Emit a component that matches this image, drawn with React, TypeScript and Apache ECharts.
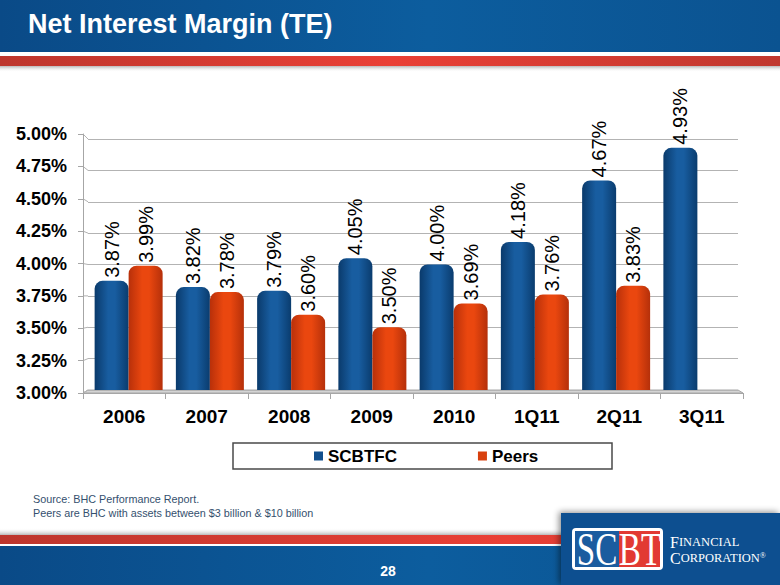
import React, { useEffect, useRef } from "react";
import * as echarts from "echarts";

const categories = ["2006", "2007", "2008", "2009", "2010", "1Q11", "2Q11", "3Q11"];
const scbtfcValues = [3.87, 3.82, 3.79, 4.05, 4.0, 4.18, 4.67, 4.93];
const peersValues: (number | null)[] = [3.99, 3.78, 3.6, 3.5, 3.69, 3.76, 3.83, null];
const yMin = 3;
const yMax = 5;
const yInterval = 0.25;
const seriesNames = ["SCBTFC", "Peers"];
const titleText = "Net Interest Margin (TE)";
const sourceLines = [
  "Source: BHC Performance Report.",
  "Peers are BHC with assets between $3 billion & $10 billion",
];
const pageNumber = "28";

const W = 780;
const H = 585;
// back plane (bars, gridlines) and front plane (axes) of the 3D chart
const G0 = { left: 88, right: 42, top: 139, bottom: 195 };
const G1 = { left: 83, right: 37, top: 134, bottom: 192 };
const FONT = "'Liberation Sans', Arial, Helvetica, sans-serif";
const SERIF = "'Liberation Serif', 'DejaVu Serif', serif";

const blueGrad = {
  type: "linear", x: 0, y: 0, x2: 1, y2: 0,
  colorStops: [
    { offset: 0, color: "#0a3a6b" },
    { offset: 0.4, color: "#185da0" },
    { offset: 0.6, color: "#185da0" },
    { offset: 1, color: "#0a3c6e" },
  ],
};
const redGrad = {
  type: "linear", x: 0, y: 0, x2: 1, y2: 0,
  colorStops: [
    { offset: 0, color: "#b8300a" },
    { offset: 0.4, color: "#ea470f" },
    { offset: 0.6, color: "#ea470f" },
    { offset: 1, color: "#b5300a" },
  ],
};

function buildDecor(): any[] {
  const els: any[] = [];
  const nTicks = Math.round((yMax - yMin) / yInterval);
  const frontTop = G1.top, frontBot = H - G1.bottom;
  const backTop = G0.top, backBot = H - G0.bottom;
  els.push({
    type: "polygon", z: -1,
    shape: { points: [[G1.left, frontBot], [W - G1.right, frontBot], [W - G0.right, backBot], [G0.left, backBot]] },
    style: { fill: "#d4d4d4", stroke: "#a8a8a8", lineWidth: 1 },
  });
  for (let i = 0; i <= nTicks; i++) {
    const fy = frontBot - (i * (frontBot - frontTop)) / nTicks;
    const by = backBot - (i * (backBot - backTop)) / nTicks;
    els.push({
      type: "line", z: -1,
      shape: { x1: G1.left, y1: fy, x2: G0.left, y2: by },
      style: { stroke: "#b3b3b3", lineWidth: 1 },
    });
  }
  return els;
}

function buildPage(): any[] {
  const els: any[] = [];
  els.push({
    type: "rect", shape: { x: 0, y: 0, width: W, height: 52 },
    style: {
      fill: { type: "linear", x: 0, y: 0, x2: 1, y2: 0, colorStops: [
        { offset: 0, color: "#0a4a87" }, { offset: 0.55, color: "#0c5d9e" }, { offset: 1, color: "#0b5391" } ] },
    },
  });
  els.push({
    type: "rect", shape: { x: 0, y: 56, width: W, height: 10 },
    style: {
      fill: { type: "linear", x: 0, y: 0, x2: 1, y2: 0, colorStops: [
        { offset: 0, color: "#bd362d" }, { offset: 0.5, color: "#ea4036" }, { offset: 1, color: "#c0382f" } ] },
    },
  });
  els.push({
    type: "rect", shape: { x: 0, y: 66, width: W, height: 6 },
    style: {
      fill: { type: "linear", x: 0, y: 0, x2: 0, y2: 1, colorStops: [
        { offset: 0, color: "#b8b8b8" }, { offset: 1, color: "rgba(255,255,255,0)" } ] },
    },
  });
  els.push({
    type: "text", x: 28, y: 24,
    style: { text: titleText, fill: "#ffffff", font: `bold 27px ${FONT}`, verticalAlign: "middle" },
  });
  els.push({
    type: "rect", shape: { x: 0, y: 528, width: 561, height: 7 },
    style: {
      fill: { type: "linear", x: 0, y: 0, x2: 0, y2: 1, colorStops: [
        { offset: 0, color: "rgba(255,255,255,0)" }, { offset: 1, color: "#b8b8b8" } ] },
    },
  });
  els.push({
    type: "rect", shape: { x: 0, y: 535, width: W, height: 9 },
    style: {
      fill: { type: "linear", x: 0, y: 0, x2: 1, y2: 0, colorStops: [
        { offset: 0, color: "#bd362d" }, { offset: 0.65, color: "#ea4036" }, { offset: 1, color: "#c0382f" } ] },
    },
  });
  els.push({
    type: "rect", shape: { x: 0, y: 546, width: W, height: 39 },
    style: {
      fill: { type: "linear", x: 0, y: 0, x2: 1, y2: 0, colorStops: [
        { offset: 0, color: "#0a4a87" }, { offset: 0.55, color: "#0c5d9e" }, { offset: 1, color: "#0b5391" } ] },
    },
  });
  els.push({
    type: "text", x: 388, y: 571,
    style: { text: pageNumber, fill: "#ffffff", font: `bold 14px ${FONT}`, align: "center", verticalAlign: "middle" },
  });
  sourceLines.forEach((t, i) => {
    els.push({
      type: "text", x: 33, y: 499 + i * 14,
      style: { text: t, fill: "#34506e", font: `10.8px ${FONT}`, verticalAlign: "middle" },
    });
  });
  els.push({
    type: "rect", shape: { x: 561, y: 513, width: 219, height: 72 },
    style: { fill: "#0c5090", shadowBlur: 6, shadowColor: "rgba(0,0,0,0.45)", shadowOffsetX: -2, shadowOffsetY: -1 },
  });
  els.push({
    type: "rect", shape: { x: 572, y: 528, width: 91, height: 42, r: 4 },
    style: { fill: "#ffffff" },
  });
  els.push({ type: "rect", shape: { x: 575, y: 531, width: 44, height: 36 }, style: { fill: "#1b5c9f" } });
  els.push({ type: "rect", shape: { x: 619, y: 531, width: 41, height: 36 }, style: { fill: "#e23a33" } });
  els.push({
    type: "text", x: 597, y: 550, scaleX: 0.72,
    style: { text: "SC", fill: "#ffffff", font: `46px ${SERIF}`, align: "center", verticalAlign: "middle" },
  });
  els.push({
    type: "text", x: 640, y: 550, scaleX: 0.72,
    style: { text: "BT", fill: "#ffffff", font: `46px ${SERIF}`, align: "center", verticalAlign: "middle" },
  });
  els.push({
    type: "text", x: 670, y: 542,
    style: {
      text: "{a|F}{b|INANCIAL}", fill: "#ffffff", verticalAlign: "middle",
      rich: {
        a: { fontFamily: SERIF, fontSize: 16, lineHeight: 13, fill: "#ffffff" },
        b: { fontFamily: SERIF, fontSize: 12.5, lineHeight: 13, fill: "#ffffff" },
      },
    },
  });
  els.push({
    type: "text", x: 670, y: 558,
    style: {
      text: "{a|C}{b|ORPORATION}{c|®}", fill: "#ffffff", verticalAlign: "middle",
      rich: {
        a: { fontFamily: SERIF, fontSize: 16, lineHeight: 13, fill: "#ffffff" },
        b: { fontFamily: SERIF, fontSize: 12.5, lineHeight: 13, fill: "#ffffff" },
        c: { fontFamily: SERIF, fontSize: 8, lineHeight: 13, fill: "#ffffff", verticalAlign: "top" },
      },
    },
  });
  els.push({
    type: "rect", shape: { x: 233, y: 443, width: 379, height: 26 },
    style: { fill: "#ffffff", stroke: "#4a4a4a", lineWidth: 1.5 },
  });
  return els;
}

export default function App() {
  const ref = useRef<HTMLDivElement>(null);
  useEffect(() => {
    document.body.style.margin = "0";
    if (!ref.current) return;
    const chart = echarts.init(ref.current, null, { renderer: "svg" });
    const labelOpt = {
      show: true,
      position: "top",
      distance: 5,
      rotate: 90,
      align: "left",
      verticalAlign: "middle",
      offset: [-2, 0],
      fontFamily: FONT,
      fontSize: 20,
      color: "#000000",
      formatter: (p: any) => (p.value == null ? "" : Number(p.value).toFixed(2) + "%"),
    };
    chart.setOption({
      animation: false,
      backgroundColor: "#ffffff",
      textStyle: { fontFamily: FONT },
      graphic: { elements: [...buildPage(), ...buildDecor()] },
      legend: {
        left: 314,
        top: 447,
        padding: 0,
        itemWidth: 9,
        itemHeight: 9,
        itemGap: 81,
        icon: "rect",
        textStyle: { fontFamily: FONT, fontSize: 17, fontWeight: "bold", color: "#000000", lineHeight: 18 },
        data: [
          { name: seriesNames[0], itemStyle: { color: "#114f8d" } },
          { name: seriesNames[1], itemStyle: { color: "#d8400e" } },
        ],
      },
      grid: [
        { left: G0.left, right: G0.right, top: G0.top, bottom: G0.bottom },
        { left: G1.left, right: G1.right, top: G1.top, bottom: G1.bottom },
      ],
      xAxis: [
        { type: "category", gridIndex: 0, data: categories, show: false },
        {
          type: "category", gridIndex: 1, data: categories,
          axisLine: { show: true, lineStyle: { color: "#a6a6a6", width: 1 } },
          axisTick: { show: true, length: 6, lineStyle: { color: "#a6a6a6" } },
          axisLabel: { fontFamily: FONT, fontSize: 19, fontWeight: "bold", color: "#000000", margin: 14 },
        },
      ],
      yAxis: [
        {
          type: "value", gridIndex: 0, min: yMin, max: yMax, interval: yInterval,
          axisLabel: { show: false }, axisLine: { show: false }, axisTick: { show: false },
          splitLine: { show: true, lineStyle: { color: "#b3b3b3", width: 1 } },
        },
        {
          type: "value", gridIndex: 1, min: yMin, max: yMax, interval: yInterval,
          axisLine: { show: true, lineStyle: { color: "#a6a6a6", width: 1 } },
          axisTick: { show: true, length: 5, lineStyle: { color: "#a6a6a6" } },
          splitLine: { show: false },
          axisLabel: {
            fontFamily: FONT, fontSize: 18, fontWeight: "bold", color: "#000000", margin: 16,
            formatter: (v: number) => v.toFixed(2) + "%",
          },
        },
      ],
      series: [
        {
          name: seriesNames[0], type: "bar", xAxisIndex: 0, yAxisIndex: 0,
          data: scbtfcValues, barWidth: 34, barGap: "0%",
          itemStyle: { color: blueGrad, borderRadius: [8, 8, 0, 0] },
          label: labelOpt,
        },
        {
          name: seriesNames[1], type: "bar", xAxisIndex: 0, yAxisIndex: 0,
          data: peersValues, barWidth: 34, barGap: "0%",
          itemStyle: { color: redGrad, borderRadius: [8, 8, 0, 0] },
          label: labelOpt,
        },
      ],
    });
    return () => chart.dispose();
  }, []);
  return <div ref={ref} style={{ width: W, height: H }} />;
}
